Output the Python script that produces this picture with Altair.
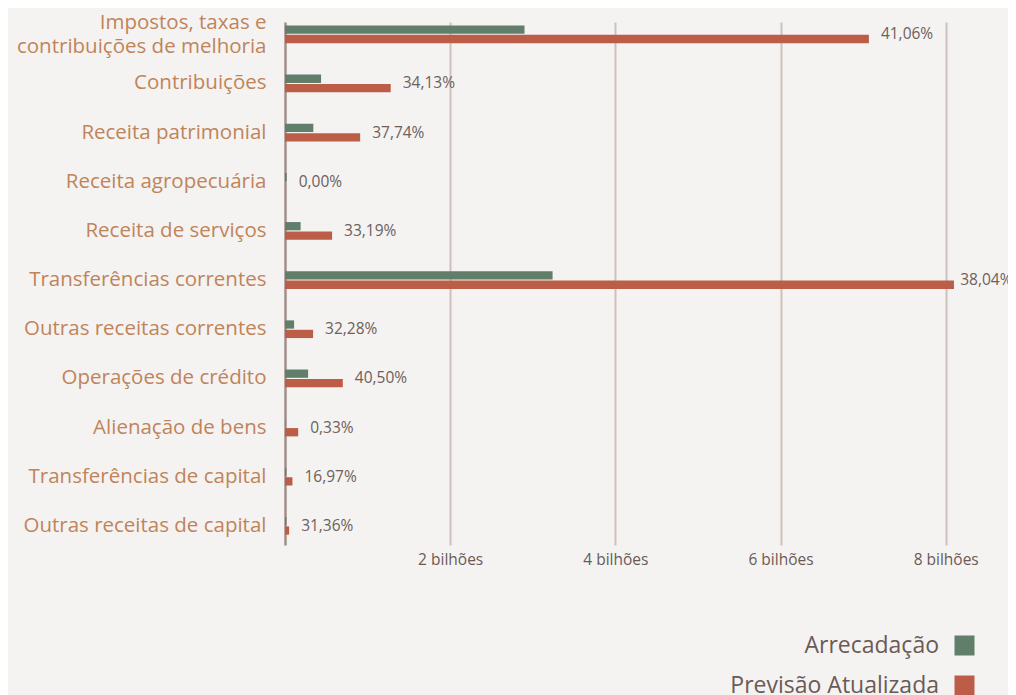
import altair as alt
import pandas as pd

categories = [
    "Impostos, taxas e contribuições de melhoria",
    "Contribuições",
    "Receita patrimonial",
    "Receita agropecuária",
    "Receita de serviços",
    "Transferências correntes",
    "Outras receitas correntes",
    "Operações de crédito",
    "Alienação de bens",
    "Transferências de capital",
    "Outras receitas de capital",
]
# values in billions
arrecadacao = [2.90, 0.437, 0.343, 0.02, 0.189, 3.24, 0.11, 0.28, 0.005, 0.015, 0.016]
previsao = [7.07, 1.28, 0.91, 0.0, 0.57, 8.10, 0.34, 0.70, 0.16, 0.09, 0.05]
pct_labels = ["41,06%", "34,13%", "37,74%", "0,00%", "33,19%", "38,04%",
              "32,28%", "40,50%", "0,33%", "16,97%", "31,36%"]
series = ["Arrecadação", "Previsão Atualizada"]
x_ticks = [2, 4, 6, 8]

rows = []
for c, a, p in zip(categories, arrecadacao, previsao):
    rows.append({"cat": c, "serie": series[0], "valor": a})
    rows.append({"cat": c, "serie": series[1], "valor": p})
bars_df = pd.DataFrame(rows)
labels_df = pd.DataFrame({
    "cat": categories,
    "pos": [max(a, p) for a, p in zip(arrecadacao, previsao)],
    "txt": pct_labels,
})

FONT = "Open Sans"
green = "#617e6b"
red = "#bc5e47"
LONG = "Impostos, taxas e contribuições de melhoria"

y_enc = alt.Y(
    "cat:N", sort=categories, title=None,
    scale=alt.Scale(paddingInner=0.64, paddingOuter=0.14, align=0.25),
    axis=alt.Axis(
        domain=True, domainColor="#a08f8b", domainWidth=2.5, ticks=False,
        labelPadding=19, labelFontSize=20.5, labelColor="#c0845a", labelFont=FONT,
        labelLimit=0, labelLineHeight=24,
        labelOffset={"condition": {"test": f"datum.value == '{LONG}'", "value": -11}, "value": 0},
        labelExpr=f"datum.label == '{LONG}' ? ['Impostos, taxas e', 'contribuições de melhoria'] : datum.label",
    ),
)

bars = alt.Chart(bars_df).mark_bar().encode(
    x=alt.X(
        "valor:Q", title=None,
        scale=alt.Scale(domain=[0, 8.5], nice=False, zero=True),
        axis=alt.Axis(
            values=x_ticks, domain=False, ticks=False, grid=True,
            gridColor="#cdc1bd", gridWidth=2, labelPadding=7,
            labelFontSize=15.5, labelColor="#6b5a57", labelFont=FONT,
            labelExpr="datum.value + ' bilhões'",
        ),
    ),
    y=y_enc,
    yOffset=alt.YOffset("serie:N", sort=series, scale=alt.Scale(paddingInner=0.12)),
    color=alt.Color(
        "serie:N", sort=series, title=None,
        scale=alt.Scale(domain=series, range=[green, red]),
        legend=alt.Legend(
            orient="none", legendX=668, legendY=612, direction="vertical",
            symbolType="square", symbolSize=400, symbolStrokeWidth=0,
            symbolOpacity=1,
            labelFontSize=23, labelColor="#6b5a57", labelFont=FONT,
            labelAlign="right", labelOffset={"expr": "-37"}, rowPadding=16,
            labelLimit=0,
        ),
    ),
)

texts = alt.Chart(labels_df).transform_calculate(
    lpos="min(datum.pos, 8.03)"
).mark_text(
    align="left", baseline="middle", dx=12, fontSize=15.5, color="#6e605c", font=FONT
).encode(
    x=alt.X("lpos:Q"),
    y=alt.Y("cat:N", sort=categories),
    text="txt:N",
)

chart = alt.layer(bars, texts).properties(
    width=702, height=523,
    background="#f4f3f1",
    padding={"left": 277, "top": 14, "right": 21, "bottom": 150},
    autosize=alt.AutoSizeParams(type="none"),
).configure_view(stroke=None)

chart.save("out.html", embed_options={"renderer": "svg", "actions": False})
